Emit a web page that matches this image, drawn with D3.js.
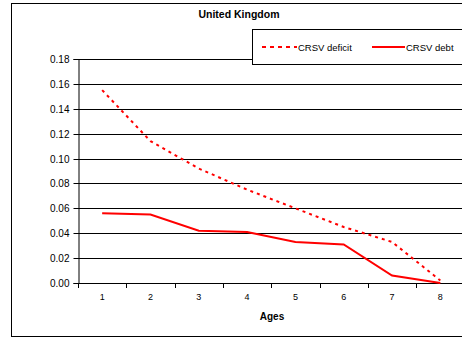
<!DOCTYPE html>
<html><head><meta charset="utf-8">
<script src="https://cdn.jsdelivr.net/npm/d3@7"></script>
<style>body{margin:0;background:#fff;font-family:"Liberation Sans",Arial,sans-serif}</style>
</head><body>
<script>
const ages = [1,2,3,4,5,6,7,8];
const crsvDeficit = [0.155,0.114,0.092,0.075,0.060,0.045,0.033,0.002];
const crsvDebt = [0.056,0.055,0.042,0.041,0.033,0.031,0.006,0.000];
const yTicks = [0,0.02,0.04,0.06,0.08,0.10,0.12,0.14,0.16,0.18];
const seriesNames = ["CRSV deficit","CRSV debt"];

(function(){
const W=462,H=338;
const svg=d3.select("body").append("svg").attr("width",W).attr("height",H);
svg.append("rect").attr("x",11.5).attr("y",3.5).attr("width",470).attr("height",333).attr("fill","#fff").attr("stroke","#000");

const pL=78, pR=464.5, pT=59, pB=283;
const x=d3.scaleBand().domain(ages).range([pL,pR]).padding(0);
const y=d3.scaleLinear().domain([0,0.18]).range([pB,pT]);
const cx=d=>x(d)+x.bandwidth()/2;

// gridlines
svg.append("g").selectAll("line").data(yTicks).join("line")
  .attr("x1",pL).attr("x2",W).attr("y1",d=>Math.round(y(d))+0.5).attr("y2",d=>Math.round(y(d))+0.5)
  .attr("stroke","#000").attr("stroke-width",1);

// y axis
const ya=svg.append("g").attr("transform",`translate(${pL+0.5},0)`)
  .call(d3.axisLeft(y).tickValues(yTicks).tickFormat(d3.format(".2f")).tickSize(5).tickPadding(4));
ya.select(".domain").attr("stroke","#000");
ya.selectAll(".tick").attr("transform",d=>`translate(0,${Math.round(y(d))+0.5})`);
ya.selectAll("text").attr("font-family","Liberation Sans, Arial, sans-serif").attr("font-size",10).attr("fill","#000");

// x axis
const xa=svg.append("g").attr("transform",`translate(0,${Math.round(pB)+0.5})`)
  .call(d3.axisBottom(x).tickSize(0).tickPadding(10));
xa.select(".domain").remove();
xa.selectAll("text").attr("font-family","Liberation Sans, Arial, sans-serif").attr("font-size",9).attr("fill","#000");
svg.append("g").selectAll("line").data(ages).join("line")
  .attr("x1",d=>Math.round(x(d))+0.5).attr("x2",d=>Math.round(x(d))+0.5)
  .attr("y1",Math.round(pB)).attr("y2",Math.round(pB)+5).attr("stroke","#000");

// lines
const line=d3.line().x((d,i)=>cx(ages[i])).y(d=>y(d));
svg.append("path").datum(crsvDeficit).attr("d",line).attr("fill","none").attr("stroke","#ff0000").attr("stroke-width",2).attr("stroke-dasharray","3,4");
svg.append("path").datum(crsvDebt).attr("d",line).attr("fill","none").attr("stroke","#ff0000").attr("stroke-width",2);

// title
svg.append("text").attr("x",239).attr("y",17.5).attr("text-anchor","middle").attr("font-weight","bold").attr("font-size",10.5).text("United Kingdom");
svg.append("text").attr("x",272).attr("y",320).attr("text-anchor","middle").attr("font-weight","bold").attr("font-size",10).text("Ages");

// legend
const lg=svg.append("g");
lg.append("rect").attr("x",252.5).attr("y",29.5).attr("width",230).attr("height",35).attr("fill","#fff").attr("stroke","#000");
lg.append("line").attr("x1",262).attr("x2",297).attr("y1",47).attr("y2",47).attr("stroke","#ff0000").attr("stroke-width",2).attr("stroke-dasharray","4,4");
lg.append("text").attr("x",298).attr("y",50.5).attr("font-size",9.5).text(seriesNames[0]);
lg.append("line").attr("x1",372).attr("x2",405).attr("y1",47).attr("y2",47).attr("stroke","#ff0000").attr("stroke-width",2);
lg.append("text").attr("x",406).attr("y",50.5).attr("font-size",9.5).text(seriesNames[1]);
})();
</script>
</body></html>
